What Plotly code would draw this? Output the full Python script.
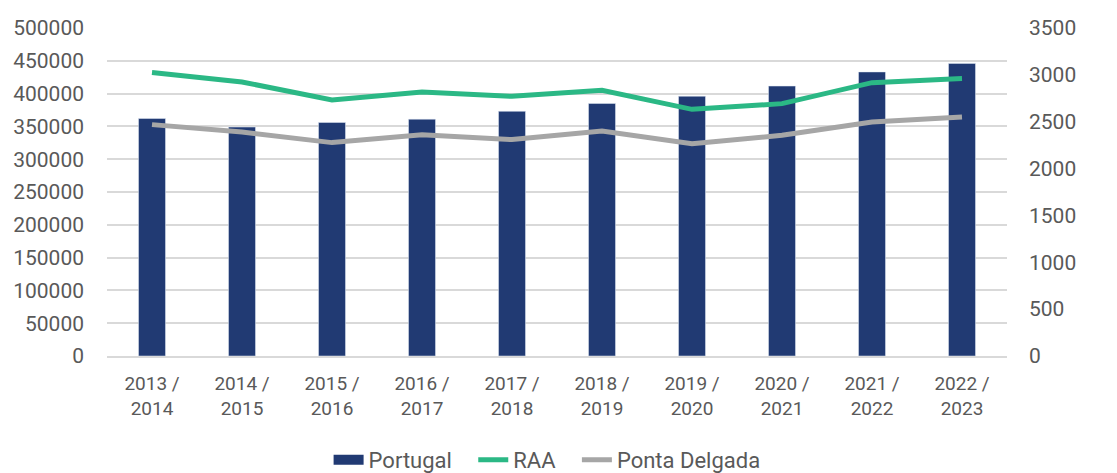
import plotly.graph_objects as go

categories = ["2013 /<br>2014", "2014 /<br>2015", "2015 /<br>2016", "2016 /<br>2017", "2017 /<br>2018",
              "2018 /<br>2019", "2019 /<br>2020", "2020 /<br>2021", "2021 /<br>2022", "2022 /<br>2023"]
portugal = [362000, 349000, 356000, 361000, 373000, 385000, 396000, 411500, 433000, 446000]
raa = [3024, 2924, 2732, 2817, 2771, 2835, 2632, 2693, 2917, 2960]
ponta_delgada = [2469, 2390, 2277, 2362, 2309, 2401, 2266, 2355, 2497, 2550]
series_names = ["Portugal", "RAA", "Ponta Delgada"]

left_ticks = [0, 50000, 100000, 150000, 200000, 250000, 300000, 350000, 400000, 450000, 500000]
right_ticks = [0, 500, 1000, 1500, 2000, 2500, 3000, 3500]

FONT = "Roboto"
TXT = "#595959"
PAD = "\u00a0\u00a0\u00a0"

fig = go.Figure()
fig.add_trace(go.Bar(x=categories, y=portugal, name=series_names[0], marker_color="#213A73",
                     width=0.3, yaxis="y", showlegend=False))
# legend-only entry so the Portugal key is drawn as a wide bar swatch
fig.add_trace(go.Scatter(x=[categories[0]], y=[None], name=series_names[0] + PAD, mode="lines",
                         line=dict(color="#213A73", width=13), yaxis="y", showlegend=True,
                         hoverinfo="skip"))
fig.add_trace(go.Scatter(x=categories, y=raa, name=series_names[1] + PAD, mode="lines",
                         line=dict(color="#2BB885", width=5), yaxis="y2"))
fig.add_trace(go.Scatter(x=categories, y=ponta_delgada, name=series_names[2], mode="lines",
                         line=dict(color="#A6A6A6", width=5), yaxis="y2"))

fig.update_layout(
    width=1109, height=465,
    margin=dict(l=99, r=110, t=20, b=117, autoexpand=False),
    paper_bgcolor="white", plot_bgcolor="white",
    font=dict(family=FONT, color=TXT, size=20),
    bargap=0.7,
    xaxis=dict(showgrid=False, tickfont=dict(size=19, color=TXT), ticks="", showline=True,
               linecolor="#D9D9D9", linewidth=2, automargin=False, ticklabelstandoff=9),
    yaxis=dict(range=[0, 500000], tickvals=left_ticks, ticktext=[str(v) for v in left_ticks],
               showgrid=True, gridcolor="#D9D9D9", gridwidth=2, zeroline=False,
               tickfont=dict(size=21, color=TXT), ticklen=0, ticks="", ticklabelstandoff=22,
               automargin=False),
    yaxis2=dict(range=[0, 3500], tickvals=right_ticks, ticktext=[str(v) for v in right_ticks],
                overlaying="y", side="right", showgrid=False, zeroline=False,
                tickfont=dict(size=21, color=TXT), ticks="", ticklabelstandoff=21,
                automargin=False),
    legend=dict(orientation="h", x=0.489, xanchor="center", y=0.028, yanchor="middle",
                yref="container", font=dict(size=22, color=TXT), traceorder="normal",
                tracegroupgap=0),
    showlegend=True,
)

fig.write_html("out.html")
